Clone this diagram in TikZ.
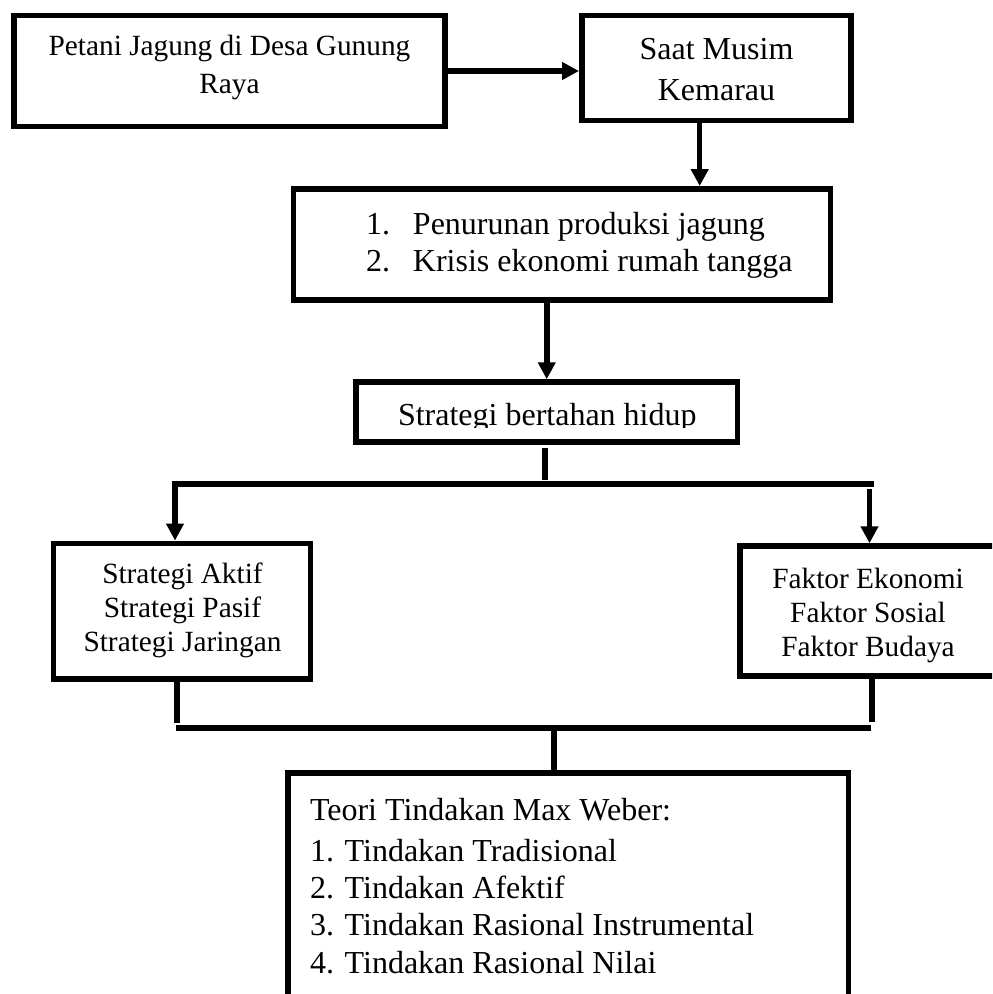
\documentclass[tikz,border=0pt]{standalone}
\usepackage{fontspec}
\setmainfont{Liberation Serif}
\usetikzlibrary{arrows.meta}
\begin{document}
\begin{tikzpicture}[x=0.75pt,y=-0.75pt,
  box/.style={draw=black, line width=4.125pt, rectangle, inner sep=0pt, fill=white},
  conn/.style={draw=black, line width=4.125pt},
  arr/.style={conn, -{Triangle[width=12.75pt,length=12.75pt]}},
  txt/.style={inner sep=0pt, outer sep=0pt, text=black},
  fa/.style={font=\fontsize{22}{#1}\selectfont},
  fb/.style={font=\fontsize{24}{#1}\selectfont}
]
\clip (0,0) rectangle (992,994);
\fill[white] (0,0) rectangle (992,994);

% boxes
\node[box, minimum width=323.6pt, minimum height=82.9pt] (b1) at (229.5,71) {};
\node[box, minimum width=202.1pt, minimum height=78.4pt] (b2) at (716.5,68) {};
\node[box, minimum width=402.4pt, minimum height=83.6pt] (b3) at (562,244.5) {};
\node[box, minimum width=286.1pt, minimum height=45pt] (b4) at (546.75,412) {};
\node[box, minimum width=192.75pt, minimum height=101.9pt] (b5) at (182,611.25) {};
\node[box, minimum width=194.25pt, minimum height=97.5pt] (b6) at (869.5,611) {};
\node[box, minimum width=420.5pt, minimum height=177.75pt] (b7) at (568.35,891.5) {};

% texts
\node[txt, fa=28.5pt, anchor=base] (t1) at (229.5,56)
  {\begin{tabular}[t]{@{}c@{}}Petani Jagung di Desa Gunung\\Raya\end{tabular}};
\node[txt, fb=31.1pt, anchor=base] (t2) at (716.5,59.5)
  {\begin{tabular}[t]{@{}c@{}}Saat Musim\\Kemarau\end{tabular}};
\node[txt, fb=28.2pt, anchor=base west] (t3) at (366,234.4)
  {\begin{tabular}[t]{@{}p{35.25pt}@{}l@{}}1. & Penurunan produksi jagung\\2. & Krisis ekonomi rumah tangga\end{tabular}};
\begin{scope}
  \clip (360,386) rectangle (734,427.3);
  \node[txt, fb=28pt, anchor=base west] (t4) at (398,425) {Strategi bertahan hidup};
\end{scope}
\node[txt, fa=25.5pt, anchor=base] (t5) at (182.5,583)
  {\begin{tabular}[t]{@{}c@{}}Strategi Aktif\\Strategi Pasif\\Strategi Jaringan\end{tabular}};
\node[txt, fa=25.5pt, anchor=base] (t6) at (868,588)
  {\begin{tabular}[t]{@{}c@{}}Faktor Ekonomi\\Faktor Sosial\\Faktor Budaya\end{tabular}};
\node[txt, fb=28pt, anchor=base west] (t7) at (310,820)
  {\begin{tabular}[t]{@{}l@{}}Teori Tindakan Max Weber:\\[2.75pt]1. Tindakan Tradisional\\2. Tindakan Afektif\\3. Tindakan Rasional Instrumental\\4. Tindakan Rasional Nilai\end{tabular}};

% connectors
\coordinate (c2) at (699.7,0);
\coordinate (s1) at (545,479.5);
\coordinate (h1L) at (175,484);
\coordinate (h1R) at (874,484);
\coordinate (h1a) at (869.5,489);
\coordinate (v5) at (177,723);
\coordinate (v6) at (872,722);
\coordinate (h2L) at (176,728);
\coordinate (h2R) at (871,728);
\coordinate (v7) at (554,731);

\draw[arr] (b1.east) -- (b1.east -| b2.west);
\draw[arr] (b2.south -| c2) -- (b3.north -| c2);
\draw[arr] (b4.north |- b3.south) -- (b4.north);
\draw[conn] (b4.south -| s1) ++(0,3) -- (s1);
\draw[arr] (h1R) -- (h1L) -- (b5.north -| h1L);
\draw[arr] (h1a) -- (b6.north -| h1a);
\draw[conn] (b5.south -| v5) -- (v5);
\draw[conn] (b6.south -| v6) -- (v6);
\draw[conn] (h2L) -- (h2R);
\draw[conn] (v7) -- (b7.north -| v7);
\end{tikzpicture}
\end{document}
